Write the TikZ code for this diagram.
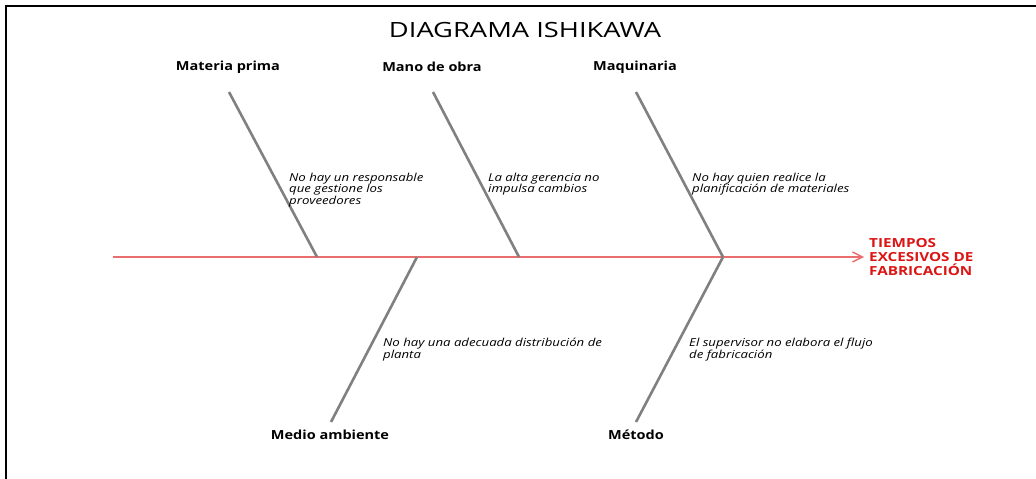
\documentclass[tikz,border=0pt]{standalone}
\usepackage{fontspec}
\setmainfont{Open Sans}
\newfontfamily\titlefont[FakeStretch=1.3]{Open Sans}
\newfontfamily\catfont[FakeStretch=1.16]{Open Sans}
\newfontfamily\notefont[FakeStretch=1.2]{Open Sans}
\newfontfamily\effectfont[FakeStretch=1.22]{Open Sans}
\usetikzlibrary{arrows.meta}
\definecolor{spinered}{RGB}{234,110,110}
\definecolor{effectred}{RGB}{220,20,20}
\definecolor{bonegray}{RGB}{128,128,128}
\tikzset{
  bone/.style={draw=bonegray,line width=2.6pt},
  cat/.style={font=\catfont\fontsize{12.5}{14}\selectfont\bfseries,inner sep=0pt},
  note/.style={font=\notefont\fontsize{11}{11.4}\selectfont\itshape,inner sep=0pt,anchor=north west,align=left},
  spine/.style={draw=spinered,line width=1.8pt,-{Straight Barb[length=10pt,width=10pt,line width=1.4pt]}},
  effect/.style={font=\effectfont\fontsize{12.5}{14}\selectfont\bfseries,text=effectred,align=left,anchor=west,inner sep=0pt},
}
\begin{document}
\begin{tikzpicture}[x=1pt,y=-1pt]
\useasboundingbox (0,0) rectangle (1036,479);
% frame (top and left edges)
\draw[line width=2.4pt] (6,479) -- (6,6) -- (1036,6);
% title
\node[font=\titlefont\fontsize{21}{24}\selectfont,inner sep=0pt] (title) at (525,30) {DIAGRAMA ISHIKAWA};
% spine
\coordinate (tail) at (113,257);
\coordinate (head) at (864,257);
\draw[spine] (tail) -- (head);
\node[effect] (effect) at (869,257) {TIEMPOS\\EXCESIVOS DE\\FABRICACIÓN};
% spine junctions
\coordinate (j1) at (317,257);
\coordinate (j2) at (519,257);
\coordinate (j3) at (723,257);
\coordinate (j4) at (417,257);
% bone ends
\coordinate (t1) at (229,92);
\coordinate (t2) at (433,92);
\coordinate (t3) at (636,92);
\coordinate (b1) at (331,422);
\coordinate (b2) at (636,422);
\draw[bone] (t1) -- (j1);
\draw[bone] (t2) -- (j2);
\draw[bone] (t3) -- (j3);
\draw[bone] (b1) -- (j4);
\draw[bone] (b2) -- (j3);
% category labels
\node[cat] (mp) at (228,67) {Materia prima};
\node[cat] (mo) at (432,67) {Mano de obra};
\node[cat] (mq) at (635,67) {Maquinaria};
\node[cat] (ma) at (330,435) {Medio ambiente};
\node[cat] (me) at (636,435) {Método};
% notes
\node[note] (n1) at (289,173) {No hay un responsable\\que gestione los\\proveedores};
\node[note] (n2) at (488,173) {La alta gerencia no\\impulsa cambios};
\node[note] (n3) at (692,173) {No hay quien realice la\\planificación de materiales};
\node[note] (n4) at (383,338) {No hay una adecuada distribución de\\planta};
\node[note] (n5) at (689,338) {El supervisor no elabora el flujo\\de fabricación};
\end{tikzpicture}
\end{document}
